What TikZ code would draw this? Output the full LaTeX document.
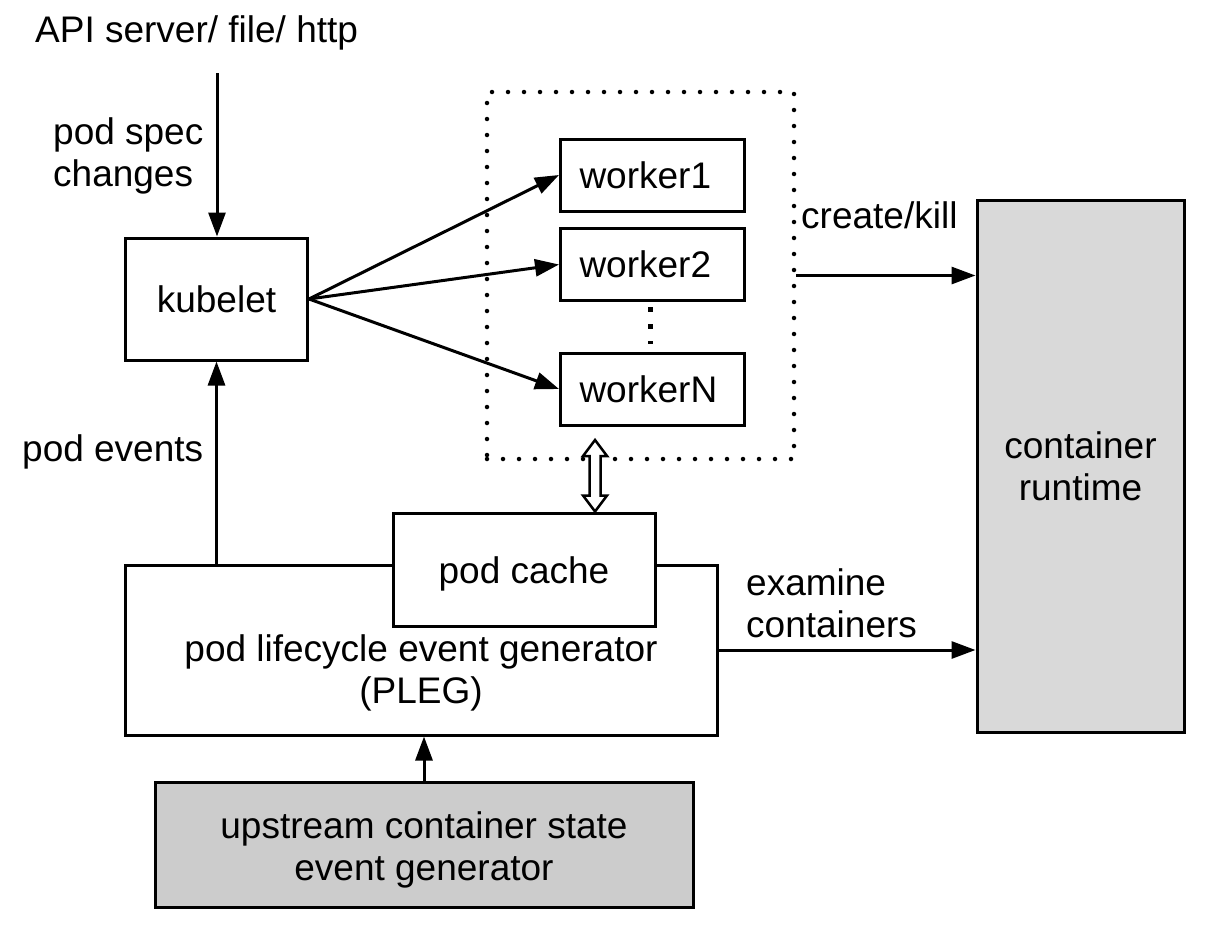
\documentclass[tikz,border=0pt]{standalone}
\usepackage{fontspec}
\setmainfont{Liberation Sans}
\usetikzlibrary{arrows.meta,calc}
\definecolor{upgray}{HTML}{CCCCCC}
\definecolor{rtgray}{HTML}{D9D9D9}
\begin{document}
\begin{tikzpicture}[x=1pt,y=-1pt,
  every node/.style={font=\fontsize{37}{42}\selectfont, inner sep=0pt},
  box/.style={draw, line width=3pt, fill=white, align=center},
  workerbox/.style={draw, line width=3pt, fill=white, minimum width=184pt, minimum height=72pt, text width=146pt, align=left},
  dotbox/.style={draw, line width=4.5pt, line cap=round, dash pattern=on 0pt off 16pt},
  conn/.style={line width=3pt, -{Triangle[length=24pt,width=17pt]}},
  dblarrow/.style={draw, line width=2.5pt, fill=white, line join=miter}]
\useasboundingbox (0,0) rectangle (1214,942);
% texts
\node[anchor=base west] (api) at (35,43) {API server/ file/ http};
\node[align=left, anchor=west] (spec) at (53,156) {pod spec\\changes};
\node[anchor=west] (ev) at (22,452) {pod events};
\node[anchor=west] (ck) at (801,215) {create/kill};
\node[align=left, anchor=west] (ex) at (746,603) {examine\\containers};
% boxes
\node[box, minimum width=182pt, minimum height=122pt] (kub) at (216.5,299) {kubelet};
\node[dotbox, minimum width=307pt, minimum height=367pt] (grp) at (640.5,275.5) {};
\node[workerbox] (w1) at (652.5,175) {worker1};
\node[workerbox] (w2) at (652.5,264.5) {worker2};
\node[workerbox] (wN) at (652.5,389) {workerN};
\node[box, fill=rtgray, minimum width=207pt, minimum height=532pt] (rt) at (1080.5,466) {container\\runtime};
\node[box, minimum width=592pt, minimum height=170pt] (pleg) at (421,650) {};
\node[align=center] (plegt) at (421,673) {pod lifecycle event generator\\(PLEG)};
\node[box, minimum width=262pt, minimum height=113pt, text height=27pt, text depth=0pt] (cache) at (524,569.5) {pod cache};
\node[box, fill=upgray, minimum width=538pt, minimum height=125pt] (up) at (424,844.5) {};
\node[align=center] (upt) at (424,849.5) {upstream container state\\event generator};
% dots between workers
\draw[line width=5pt, dash pattern=on 5pt off 12pt] ($(w2.south)+(-2.5,5)$) -- ($(wN.north)+(-2.5,-8)$);
% connectors
\coordinate (apisrc) at (217,73);
\draw[conn] (apisrc) -- (apisrc |- kub.north);
\draw[conn] (kub.east) -- (w1.west);
\draw[conn] (kub.east) -- (w2.west);
\draw[conn] (kub.east) -- (wN.west);
\draw[conn] (kub.south |- pleg.north) -- (kub.south);
\draw[conn] (up.north) -- (up.north |- pleg.south);
\draw[conn] (grp.east) -- (grp.east -| rt.west);
\draw[conn] (pleg.east) -- (pleg.east -| rt.west);
% double arrow between workers and pod cache
\coordinate (dtop) at (595,440);
\coordinate (dbot) at (dtop |- cache.north);
\path[dblarrow] (dtop) -- ($(dtop)+(12,16)$) -- ($(dtop)+(5.5,16)$) -- ($(dbot)+(5.5,-16)$)
  -- ($(dbot)+(12,-16)$) -- (dbot) -- ($(dbot)+(-12,-16)$) -- ($(dbot)+(-5.5,-16)$)
  -- ($(dtop)+(-5.5,16)$) -- ($(dtop)+(-12,16)$) -- cycle;
\end{tikzpicture}
\end{document}
